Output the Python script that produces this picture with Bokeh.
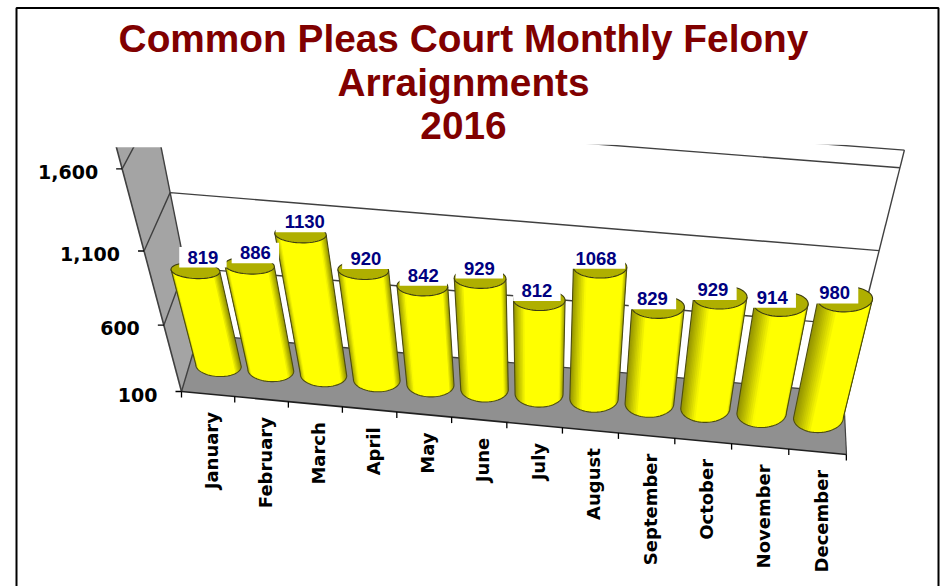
import numpy as np
from bokeh.plotting import figure
from bokeh.embed import file_html
from bokeh.resources import INLINE
from bokeh.core.properties import value

months = ["January", "February", "March", "April", "May", "June", "July",
          "August", "September", "October", "November", "December"]
felonies = [819, 886, 1130, 920, 842, 929, 812, 1068, 829, 929, 914, 980]
y_ticks = [100, 600, 1100, 1600]
y_tick_labels = ["100", "600", "1,100", "1,600"]
title_lines = ["Common Pleas Court Monthly Felony", "Arraignments", "2016"]

# ---- perspective model of the 3D box (page pixels) ----
VP_Y = 1670.0                 # vanishing point of the "vertical" direction
VP_X_BOX = 522.0
VP_X_BACK_L = 465.0
VP_X_BAR = 535.0
FRONT_L = (181.0, 391.0)
FRONT_R = (846.0, 454.0)
BACK_L = (198.0, 334.0)
BACK_R = (843.0, 392.0)


def level_rise(v, k=1.0):
    d = v - 100.0
    return k * d * (0.121 + 1.54e-5 * d)


def lift(pt, v, k=1.0, vx=VP_X_BOX):
    """Move a floor point up to the level v along the line to the vanishing point."""
    h = level_rise(v, k)
    x, y = pt
    return (x + (x - vx) / (VP_Y - y) * h, y - h)


def u_front(u):
    x = FRONT_L[0] + 53.04 * u + 0.197 * u * u
    f = (x - FRONT_L[0]) / (FRONT_R[0] - FRONT_L[0])
    return (x, FRONT_L[1] + (FRONT_R[1] - FRONT_L[1]) * f)


def bar_base(i):
    return (218 + 52.08 * i + 0.224 * i * i, 365 + 4.74 * i)


p = figure(width=946, height=586, x_range=(0, 946), y_range=(586, 0),
           output_backend="svg", toolbar_location=None, min_border=0,
           background_fill_color="white", border_fill_color="white")
p.xaxis.visible = False
p.yaxis.visible = False
p.xgrid.visible = False
p.ygrid.visible = False
p.outline_line_color = None

WALL = "#a4a4a4"
FLOOR = "#909090"
LINE = "#404040"
k_front = 1.03
k_left = 1.04
k_right = 1.04

# walls
top_level = 2100
wl_f = lift(FRONT_L, top_level, k_front)
wl_b = lift(BACK_L, top_level, k_left, VP_X_BACK_L)
p.patch([FRONT_L[0], wl_f[0], wl_b[0], BACK_L[0]], [FRONT_L[1], wl_f[1], wl_b[1], BACK_L[1]],
        fill_color=WALL, line_color=None)
p.patch([FRONT_L[0], FRONT_R[0], BACK_R[0], BACK_L[0]], [FRONT_L[1], FRONT_R[1], BACK_R[1], BACK_L[1]],
        fill_color=FLOOR, line_color=None)

# grid lines on the two walls
for v in y_ticks:
    f = lift(FRONT_L, v, k_front)
    bl = lift(BACK_L, v, k_left, VP_X_BACK_L)
    br = lift(BACK_R, v, k_right)
    p.line([f[0], bl[0], br[0]], [f[1], bl[1], br[1]], line_color=LINE, line_width=1.4)
# top rim of the back wall
rim_l = lift(BACK_L, 1700, k_left, VP_X_BACK_L)
rim_r = lift(BACK_R, 1700, k_right)
p.line([rim_l[0], rim_r[0]], [rim_l[1], rim_r[1]], line_color=LINE, line_width=1.4)
# box edges
p.line([FRONT_L[0], wl_f[0]], [FRONT_L[1], wl_f[1]], line_color=LINE, line_width=1.6)
p.line([BACK_L[0], wl_b[0]], [BACK_L[1], wl_b[1]], line_color=LINE, line_width=1.4)
p.line([BACK_R[0], rim_r[0]], [BACK_R[1], rim_r[1]], line_color=LINE, line_width=1.4)
p.line([BACK_R[0], FRONT_R[0]], [BACK_R[1], FRONT_R[1]], line_color=LINE, line_width=1.2)
p.line([FRONT_L[0], FRONT_R[0]], [FRONT_L[1], FRONT_R[1]], line_color="#202020", line_width=1.6)

# ---- cylinders ----
N = 36
for i, val in enumerate(felonies):
    b_base = 11 + 0.36 * i
    base = bar_base(i)
    h = level_rise(val)
    sc = (VP_Y - (base[1] - h)) / (VP_Y - base[1])
    top = lift(base, val, vx=VP_X_BAR)
    a_base = 22.8 + 0.2 * i
    a_top = a_base * sc
    b_top = 8 + 0.42 * i
    tilt = np.radians(3 - 0.4 * i)
    ct, st = np.cos(tilt), np.sin(tilt)

    def ell(c, a, b, th):
        ex, ey = a * np.cos(th), b * np.sin(th)
        return c[0] + ex * ct - ey * st, c[1] + ex * st + ey * ct

    # light band moves across the cylinder from left to right
    tl = -0.86 + 0.05 * i
    tr = 0.74 + 0.014 * i
    ths = np.linspace(np.pi, 0, N + 1)  # along the visible front half, left to right
    xs, ys, cols = [], [], []
    for j in range(N):
        th0, th1 = ths[j], ths[min(j + 2, N)]   # overlap to hide seams
        t = np.cos((ths[j] + ths[j + 1]) / 2)
        f = 1.0
        if t < tl:
            f = 1 - 0.42 * (tl - t) / (tl + 1)
        elif t > tr:
            f = 1 - 0.42 * (t - tr) / (1 - tr)
        c = int(255 * f)
        ax0, ay0 = ell(top, a_top, b_top, th0)
        ax1, ay1 = ell(top, a_top, b_top, th1)
        bx0, by0 = ell(base, a_base, b_base, th0)
        bx1, by1 = ell(base, a_base, b_base, th1)
        xs.append([ax0, ax1, bx1, bx0])
        ys.append([ay0, ay1, by1, by0])
        cols.append("#%02x%02x00" % (c, c))
    p.patches(xs, ys, fill_color=cols, line_color=None)
    # outline of the body
    th = np.linspace(np.pi, 0, 40)
    bx, by = ell(base, a_base, b_base, th)
    tx, ty = ell(top, a_top, b_top, th)
    p.line(list(tx[:1]) + list(bx) + list(tx[-1:]), list(ty[:1]) + list(by) + list(ty[-1:]),
           line_color="#4d4d10", line_width=1.1)
    th = np.linspace(0, 2 * np.pi, 60)
    ex, ey = ell(top, a_top, b_top, th)
    p.patch(ex, ey, fill_color="#afaf00", line_color="#3c3c10", line_width=1.1)

# ---- value labels on white boxes ----
for i, val in enumerate(felonies):
    top = lift(bar_base(i), val, vx=VP_X_BAR)
    lx, ly = top[0] + 7.5 - 1.65 * i, top[1] - 12 - 2 + 0.65 * i
    s = str(val)
    hw = 7.5 + 5.4 * len(s)
    p.quad(left=lx - hw, right=lx + hw, top=ly - 9.5, bottom=ly + 11, fill_color="white", line_color=None)
    p.text([lx], [ly - 1.5 + 2], text=[s], text_color="#000080", text_font=value("Liberation Sans"),
           text_font_style="bold", text_font_size="18.5px", text_align="center", text_baseline="middle")

# ---- mask above the plotting area ----
p.quad(left=90, right=402, top=9, bottom=146.7, fill_color="white", line_color=None)
p.quad(left=400, right=936, top=9, bottom=144.3, fill_color="white", line_color=None)

# ---- ticks and tick labels ----
TICK_FONT = value("DejaVu Sans")
for v, lab in zip(y_ticks, y_tick_labels):
    f = lift(FRONT_L, v, k_front)
    p.line([f[0] - 6, f[0]], [f[1], f[1]], line_color="black", line_width=1.3)
    p.text([f[0] - 24], [f[1] + 3], text=[lab], text_color="black", text_font=TICK_FONT,
           text_font_style="bold", text_font_size="19px", text_align="right", text_baseline="middle")

for i in range(13):
    t = u_front(i)
    p.line([t[0], t[0]], [t[1], t[1] + 6], line_color="black", line_width=1.3)
for i, m in enumerate(months):
    t0, t1 = u_front(i), u_front(i + 1)
    cx = (t0[0] + t1[0]) / 2
    cy = (t0[1] + t1[1]) / 2
    p.text([cx + 3.5], [cy + 18], text=[m], angle=np.pi / 2, text_color="black", text_font=TICK_FONT,
           text_font_style="bold", text_font_size="18px", text_align="right", text_baseline="middle")

# ---- title ----
for line, by in zip(title_lines, [38, 82, 125]):
    p.text([463], [by], text=[line], text_color="#800000", text_font=value("Liberation Sans"),
           text_font_style="bold", text_font_size="38.8px", text_align="center", text_baseline="alphabetic")

# ---- frame ----
p.line([16, 16, 938, 938], [586, 7.5, 7.5, 586], line_color="black", line_width=2)

open("out.html", "w").write(file_html(p, INLINE))
